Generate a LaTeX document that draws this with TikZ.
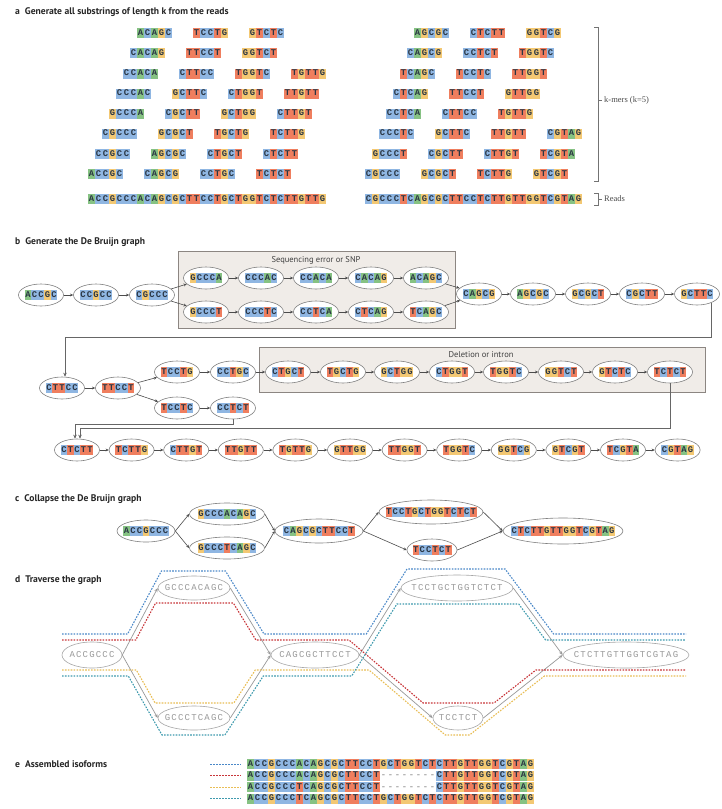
\documentclass[tikz,border=0pt]{standalone}
\usepackage{fontspec}
\setmainfont{PT Sans}
\newfontfamily\lblserif{Liberation Serif}
\newfontfamily\ntfont{Liberation Mono}
\usetikzlibrary{shapes.geometric,arrows.meta,calc}
\definecolor{ntA}{HTML}{86C283}
\definecolor{ntC}{HTML}{8FB6E2}
\definecolor{ntG}{HTML}{F3C873}
\definecolor{ntT}{HTML}{EF7E5E}
\definecolor{nttxt}{HTML}{2A3644}
\definecolor{isoB}{HTML}{4A88C8}
\definecolor{isoR}{HTML}{C8363A}
\definecolor{isoY}{HTML}{E9BE55}
\definecolor{isoT}{HTML}{3E9AAE}
\definecolor{boxfill}{HTML}{F0ECE8}
\definecolor{boxline}{HTML}{8C8682}
\newlength\ntw \setlength\ntw{7pt}
\newlength\nth \setlength\nth{10pt}
\newlength\ntd \setlength\ntd{2.9pt}
\newcommand\ntbox[2]{\rlap{\textcolor{#1}{\rule[-\ntd]{\ntw}{\nth}}}\makebox[\ntw]{#2}}
\newcommand\ntcell[1]{\if#1A\ntbox{ntA}{A}\else\if#1C\ntbox{ntC}{C}\else\if#1G\ntbox{ntG}{G}\else\if#1T\ntbox{ntT}{T}\else\makebox[\ntw]{\textcolor{black!35}{-}}\fi\fi\fi\fi}
\def\sqloop#1{\ifx\relax#1\else\ntcell{#1}\expandafter\sqloop\fi}
\def\sqgloop#1{\ifx\relax#1\else\makebox[\ntw]{#1}\expandafter\sqgloop\fi}
\newcommand\sq[1]{{\ntfont\bfseries\fontsize{8.8}{10}\selectfont\color{nttxt}\sqloop#1\relax}}
\newcommand\sqx[1]{\expandafter\sq\expandafter{#1}}
\newcommand\sqb[1]{{\setlength\ntw{6.5pt}\sqx{#1}}}
\newcommand\sqg[1]{{\setlength\ntw{6.6pt}\ntfont\fontsize{9}{10}\selectfont\color{black!40}\expandafter\sqgloop#1\relax}}
\begin{document}
\begin{tikzpicture}[x=1pt,y=-1pt,
 kmer/.style={anchor=west,inner sep=0pt,outer sep=0pt},
 ov/.style={ellipse,draw=black!50,fill=white,line width=0.6pt,inner sep=0pt,minimum height=22pt},
 ov5/.style={ov,minimum width=45pt},
 arr/.style={draw=black!70,line width=0.6pt,-{Stealth[length=3.2pt,width=2.8pt]}},
 conn/.style={draw=black!60,line width=1pt,-{Stealth[length=4pt,width=3.5pt]}},
 sbox/.style={draw=boxline,fill=boxfill,line width=0.8pt},
 boxlbl/.style={font=\fontsize{8.5}{10}\selectfont,text=black!75,inner sep=0pt},
 ttl/.style={anchor=west,inner sep=0pt,font=\fontsize{9.6}{11}\selectfont\bfseries,text=black!85},
 lbl/.style={anchor=west,inner sep=0pt,font=\lblserif\fontsize{8.5}{10}\selectfont,text=black!70},
 brk/.style={draw=black!55,line width=0.7pt},
 dov/.style={ellipse,draw=black!35,line width=0.6pt,inner sep=0pt,fill=white},
 darr/.style={draw=black!40,line width=0.7pt,-{Stealth[length=4pt,width=3.2pt]}},
 iso/.style={line width=1.1pt,dash pattern=on 1.6pt off 1.3pt},
]
\useasboundingbox (0,0) rectangle (721,809);
\fill[white] (0,0) rectangle (721,809);

% ---------- titles
\node[ttl] (ta) at (15,12) {a\hspace{5pt}Generate all substrings of length k from the reads};
\node[ttl] (tb) at (15,242) {b\hspace{5pt}Generate the De Bruijn graph};
\node[ttl] (tc) at (15,499) {c\hspace{5pt}Collapse the De Bruijn graph};
\node[ttl] (td) at (15,580) {d\hspace{5pt}Traverse the graph};
\node[ttl] (te) at (15,764) {e\hspace{5pt}Assembled isoforms};

% ---------- panel a
\foreach \i/\s in {0/ACCGC,1/CCGCC,2/CGCCC,3/GCCCA,4/CCCAC,5/CCACA,6/CACAG,7/ACAGC,8/CAGCG,9/AGCGC,10/GCGCT,11/CGCTT,12/GCTTC,13/CTTCC,14/TTCCT,15/TCCTG,16/CCTGC,17/CTGCT,18/TGCTG,19/GCTGG,20/CTGGT,21/TGGTC,22/GGTCT,23/GTCTC,24/TCTCT,25/CTCTT,26/TCTTG,27/CTTGT,28/TTGTT,29/TGTTG}
  {\node[kmer] (la\i) at ({88+7*\i},{174-20.1*mod(\i,8)}) {\sqx{\s}};}
\foreach \i/\s in {0/CGCCC,1/GCCCT,2/CCCTC,3/CCTCA,4/CTCAG,5/TCAGC,6/CAGCG,7/AGCGC,8/GCGCT,9/CGCTT,10/GCTTC,11/CTTCC,12/TTCCT,13/TCCTC,14/CCTCT,15/CTCTT,16/TCTTG,17/CTTGT,18/TTGTT,19/TGTTG,20/GTTGG,21/TTGGT,22/TGGTC,23/GGTCG,24/GTCGT,25/TCGTA,26/CGTAG}
  {\node[kmer] (ra\i) at ({365+7*\i},{174-20.1*mod(\i,8)}) {\sqx{\s}};}
\node[kmer] (readL) at (88,199) {\sq{ACCGCCCACAGCGCTTCCTGCTGGTCTCTTGTTG}};
\node[kmer] (readR) at (365,199) {\sq{CGCCCTCAGCGCTTCCTCTTGTTGGTCGTAG}};
\draw[brk] (594,27) -- (598,27) -- (598,181) -- (594,181);
\draw[brk] (598,100) -- (602,100);
\node[lbl] (kml) at (604,100) {k-mers (k=5)};
\draw[brk] (594,193) -- (598,193) -- (598,205) -- (594,205);
\draw[brk] (598,199) -- (602,199);
\node[lbl] (rdl) at (604,199) {Reads};

% ---------- panel b
\draw[sbox] (178,251) rectangle (455,328);
\node[boxlbl] (lb1) at (316,260) {Sequencing error or SNP};
\draw[sbox] (259,347) rectangle (705,392);
\node[boxlbl] (lb2) at (481,355) {Deletion or intron};

\foreach \n/\x/\y/\s in {b1/41/295/ACCGC,b2/96/295/CCGCC,b3/152/295/CGCCC,
  u1/206/278/GCCCA,u2/261/278/CCCAC,u3/316/278/CCACA,u4/371/278/CACAG,u5/426/278/ACAGC,
  l1/206/312/GCCCT,l2/261/312/CCCTC,l3/316/312/CCTCA,l4/371/312/CTCAG,l5/426/312/TCAGC,
  b4/479/294/CAGCG,b5/533/294/AGCGC,b6/588/294/GCGCT,b7/642/294/CGCTT,b8/697/294/GCTTC,
  m1/62/388/CTTCC,m2/118/388/TTCCT,
  mu1/177/372/TCCTG,mu2/233/372/CCTGC,mu3/288/372/CTGCT,mu4/343/372/TGCTG,mu5/397/372/GCTGG,
  mu6/452/372/CTGGT,mu7/506/372/TGGTC,mu8/561/372/GGTCT,mu9/615/372/GTCTC,mu10/670/372/TCTCT,
  ml1/177/408/TCCTC,ml2/233/408/CCTCT}
  {\node[ov5] (\n) at (\x,\y) {\makebox[0pt]{\sqb{\s}}};}
\foreach \i/\s in {1/CTCTT,2/TCTTG,3/CTTGT,4/TTGTT,5/TGTTG,6/GTTGG,7/TTGGT,8/TGGTC,9/GGTCG,10/GTCGT,11/TCGTA,12/CGTAG}
  {\node[ov5] (r\i) at ({77+54.6*(\i-1)},450) {\makebox[0pt]{\sqb{\s}}};}

\draw[arr] (b1) -- (b2);
\draw[arr] (b2) -- (b3);
\draw[arr] (b3) -- (u1);
\draw[arr] (b3) -- (l1);
\foreach \i [count=\j from 2] in {1,...,4} {\draw[arr] (u\i) -- (u\j); \draw[arr] (l\i) -- (l\j);}
\draw[arr] (u5) -- (b4);
\draw[arr] (l5) -- (b4);
\foreach \i [count=\j from 5] in {4,...,7} {\draw[arr] (b\i) -- (b\j);}
\draw[arr] (m1) -- (m2);
\draw[arr] (m2) -- (mu1);
\draw[arr] (m2) -- (ml1);
\foreach \i [count=\j from 2] in {1,...,9} {\draw[arr] (mu\i) -- (mu\j);}
\draw[arr] (ml1) -- (ml2);
\foreach \i [count=\j from 2] in {1,...,11} {\draw[arr] (r\i) -- (r\j);}

\coordinate (j1) at (65,337);
\coordinate (j2) at (80,428);
\coordinate (j3) at (75,424);
\draw[conn] (b8.-30) |- (j1) -- (j1 |- m1.north);
\draw[conn] (mu10.south) |- (j2) -- (j2 |- r1.north);
\draw[conn] (ml2.south) |- (j3) -- (j3 |- r1.north);

% ---------- panel c
\foreach \n/\x/\y/\w/\h/\s in {c1/146/531/58pt/22pt/ACCGCCC,c2/227/514/75pt/22pt/GCCCACAGC,c3/227/548/75pt/22pt/GCCCTCAGC,
  c4/319/531/88pt/24pt/CAGCGCTTCCT,c5/431/512/104pt/24pt/TCCTGCTGGTCTCT,c6/432/550/50pt/22pt/TCCTCT,c7/563/531/120pt/26pt/CTCTTGTTGGTCGTAG}
  {\node[ov,minimum width=\w,minimum height=\h] (\n) at (\x,\y) {\makebox[0pt]{\sqb{\s}}};}
\draw[arr] (c1.east) -- (c2.west);
\draw[arr] (c1.east) -- (c3.west);
\draw[arr] (c2.east) -- (c4.west);
\draw[arr] (c3.east) -- (c4.west);
\draw[arr] (c4.east) -- (c5.west);
\draw[arr] (c4.east) -- (c6.west);
\draw[arr] (c5.east) -- (c7.west);
\draw[arr] (c6.east) -- (c7.west);

% ---------- panel d
\foreach \n/\x/\y/\w/\h/\s in {d1/92/655/60pt/26pt/ACCGCCC,d2/194/588/72pt/24pt/GCCCACAGC,d3/194/718/72pt/24pt/GCCCTCAGC,
  d4/315/655/88pt/26pt/CAGCGCTTCCT,d5/457/588/112pt/26pt/TCCTGCTGGTCTCT,d6/458/718/50pt/24pt/TCCTCT,d7/626/655/126pt/26pt/CTCTTGTTGGTCGTAG}
  {\node[dov,minimum width=\w,minimum height=\h] (\n) at (\x,\y) {\makebox[0pt]{\sqg{\s}}};}
\draw[darr] (d1.east) -- (d2.west);
\draw[darr] (d1.east) -- (d3.west);
\draw[darr] (d2.east) -- (d4.west);
\draw[darr] (d3.east) -- (d4.west);
\draw[darr] (d4.east) -- (d5.west);
\draw[darr] (d4.east) -- (d6.west);
\draw[darr] (d5.east) -- (d7.west);
\draw[darr] (d6.east) -- (d7.west);
\draw[iso,isoB] (62,634) -- (127.6,634) -- (161.4,571) -- (225.5,571) -- (264,634) -- (366.3,634) -- (407,569) -- (505.1,569) -- (553.6,634) -- (686,634);
\draw[iso,isoR] (62,640) -- (135.7,640) -- (155.6,603) -- (233.3,603) -- (255.9,640) -- (349,640) -- (423.1,703) -- (494,703) -- (535.9,670) -- (686,670);
\draw[iso,isoY] (62,670) -- (136.3,670) -- (155.1,703) -- (233.8,703) -- (255.3,670) -- (369,670) -- (445.3,735) -- (469.5,735) -- (544.4,676) -- (686,676);
\draw[iso,isoT] (62,676) -- (128.3,676) -- (162,735) -- (224.9,735) -- (263.3,676) -- (351.7,676) -- (396.9,604) -- (518.7,604) -- (545.6,640) -- (686,640);

% ---------- panel e
\foreach \k/\col/\s/\y in {1/isoB/ACCGCCCACAGCGCTTCCTGCTGGTCTCTTGTTGGTCGTAG/764,
  2/isoR/ACCGCCCACAGCGCTTCCT--------CTTGTTGGTCGTAG/775.5,
  3/isoY/ACCGCCCTCAGCGCTTCCT--------CTTGTTGGTCGTAG/787,
  4/isoT/ACCGCCCTCAGCGCTTCCTGCTGGTCTCTTGTTGGTCGTAG/798.5}
  {\node[kmer] (e\k) at (247,\y) {\sqx{\s}};
   \coordinate (es\k) at (210,\y);
   \draw[line width=1pt,dash pattern=on 1.5pt off 1.5pt,draw=\col,shorten >=6pt] (es\k) -- (e\k.west);}
\end{tikzpicture}
\end{document}
